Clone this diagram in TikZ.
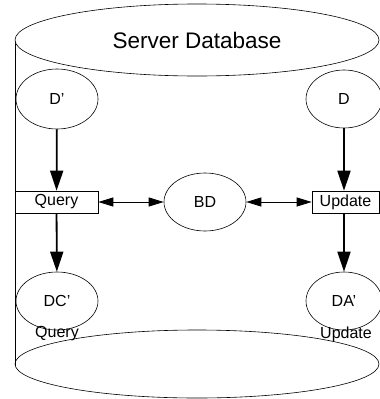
\documentclass[tikz,border=0pt]{standalone}
\usepackage{fontspec}
\setmainfont{Liberation Sans}
\usetikzlibrary{shapes.geometric,arrows.meta}

\tikzset{
  blob/.style={ellipse, draw, line width=0.6pt, inner sep=0pt},
  opbox/.style={rectangle, draw, line width=0.6pt, minimum height=22pt, inner sep=0pt},
  flow/.style={line width=1.8pt, -{Triangle[length=20pt,width=13pt]}},
  link/.style={line width=0.9pt, {Triangle[length=15pt,width=9pt]}-{Triangle[length=15pt,width=9pt]}},
  small/.style={font=\fontsize{16}{19}\selectfont}
}

\begin{document}
\begin{tikzpicture}[x=1pt, y=-1pt, small]
      \useasboundingbox (0,0) rectangle (380,399);

      % the cylinder
      \draw[line width=0.6pt] (15,40) -- (15,366);
      \draw[line width=0.6pt] (197,364) ellipse [x radius=182, y radius=34];
      \node[blob, fill=white, minimum width=364pt, minimum height=72pt, font=\fontsize{22.5}{26}\selectfont] (server) at (197,40) {Server Database};

      \node[blob, minimum width=82pt, minimum height=60pt] (dp) at (57,99) {D'};
      \node[blob, minimum width=76pt, minimum height=58pt] (d) at (344,99) {D};
      \node[opbox, minimum width=83pt] (query) at (56.5,202) {Query};
      \node[opbox, minimum width=67pt] (update) at (345.5,202) {Update};
      \node[blob, minimum width=82pt, minimum height=58pt] (bd) at (205,202) {BD};
      \node[blob, minimum width=82pt, minimum height=58pt] (dcp) at (57,301) {DC'};
      \node[blob, minimum width=76pt, minimum height=58pt] (dap) at (344,301) {DA'};

      \node (qlabel) at (57,334) {Query};
      \node (ulabel) at (346,334) {Update};

      \draw[flow] (dp) -- (query);
      \draw[flow] (query) -- (dcp);
      \draw[flow] (d) -- (update.north -| d);
      \draw[flow] (update.south -| dap) -- (dap);

      \draw[link] (query) -- (bd);
      \draw[link] (bd) -- (update);
    \end{tikzpicture}
\end{document}
